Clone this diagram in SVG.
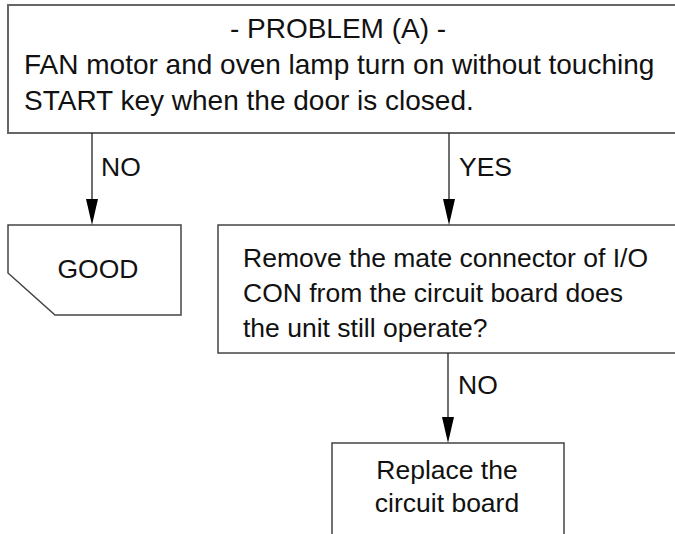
<svg xmlns="http://www.w3.org/2000/svg" width="675" height="534" viewBox="0 0 675 534">
<style>
.box{fill:#fff;stroke:#444;stroke-width:1.5}
.top{stroke:#666;stroke-width:2}
.t{font-family:"Liberation Sans",Arial,sans-serif;font-size:26.5px;fill:#111}
.big{font-size:28px}
.c{text-anchor:middle}
.ln{stroke:#222;stroke-width:1.3;fill:none}
.ah{fill:#000}
</style>
<g id="problem">
<rect class="box top" x="8" y="5" width="700" height="128"/>
<text class="t big c" x="338" y="38">- PROBLEM (A) -</text>
<text class="t big" x="24" y="74">FAN motor and oven lamp turn on without touching</text>
<text class="t big" x="24" y="110">START key when the door is closed.</text>
</g>
<g id="good">
<path class="box" d="M8,225 H181 V315 H55 L8,273 Z"/>
<text class="t c" x="98" y="278">GOOD</text>
</g>
<g id="remove">
<rect class="box" x="218" y="225" width="500" height="128"/>
<text class="t" x="243" y="267">Remove the mate connector of I/O</text>
<text class="t" x="243" y="302">CON from the circuit board does</text>
<text class="t" x="243" y="337">the unit still operate?</text>
</g>
<g id="replace">
<rect class="box" x="332" y="443" width="232" height="120"/>
<text class="t c" x="447" y="479">Replace the</text>
<text class="t c" x="447" y="512">circuit board</text>
</g>
<g id="connectors">
<line class="ln" x1="92" y1="133" x2="92" y2="200"/>
<path class="ah" d="M86,199 L98,199 L92,225 Z"/>
<text class="t" x="101" y="176">NO</text>
<line class="ln" x1="449" y1="133" x2="449" y2="200"/>
<path class="ah" d="M443,199 L455,199 L449,225 Z"/>
<text class="t" x="459" y="176">YES</text>
<line class="ln" x1="448" y1="353" x2="448" y2="418"/>
<path class="ah" d="M442,417 L454,417 L448,443 Z"/>
<text class="t" x="458" y="394">NO</text>
</g>
</svg>
